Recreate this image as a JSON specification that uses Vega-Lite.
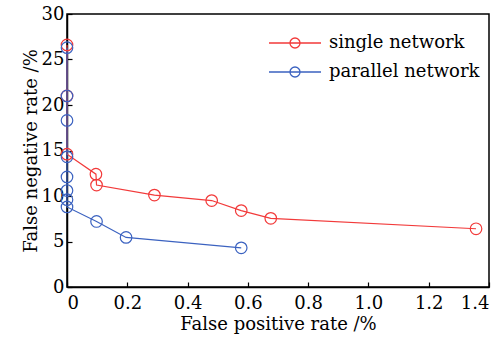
{
  "$schema": "https://vega.github.io/schema/vega-lite/v6.json",
  "width": 422,
  "height": 273,
  "autosize": {"type": "none"},
  "padding": {"left": 67, "top": 14, "right": 13, "bottom": 57},
  "background": "white",
  "config": {
    "font": "DejaVu Serif",
    "view": {"stroke": "black", "strokeWidth": 1.5},
    "axis": {
      "domainColor": "black", "domainWidth": 1.5,
      "tickColor": "black", "tickWidth": 1.2,
      "labelColor": "black", "titleColor": "black",
      "labelFont": "DejaVu Serif", "titleFont": "DejaVu Serif",
      "labelFontSize": 18, "titleFontSize": 18, "titleFontWeight": "normal",
      "grid": false
    }
  },
  "data": {
    "values": [
      {"series": "single network", "order": 1, "fpr": 0.0, "fnr": 26.6},
      {"series": "single network", "order": 2, "fpr": 0.0, "fnr": 21.0},
      {"series": "single network", "order": 3, "fpr": 0.0, "fnr": 14.6},
      {"series": "single network", "order": 4, "fpr": 0.096, "fnr": 12.4},
      {"series": "single network", "order": 5, "fpr": 0.098, "fnr": 11.2},
      {"series": "single network", "order": 6, "fpr": 0.29, "fnr": 10.1},
      {"series": "single network", "order": 7, "fpr": 0.48, "fnr": 9.5},
      {"series": "single network", "order": 8, "fpr": 0.578, "fnr": 8.4},
      {"series": "single network", "order": 9, "fpr": 0.676, "fnr": 7.55},
      {"series": "single network", "order": 10, "fpr": 1.357, "fnr": 6.4},
      {"series": "parallel network", "order": 1, "fpr": 0.0, "fnr": 26.3},
      {"series": "parallel network", "order": 2, "fpr": 0.0, "fnr": 21.0},
      {"series": "parallel network", "order": 3, "fpr": 0.0, "fnr": 18.3},
      {"series": "parallel network", "order": 4, "fpr": 0.0, "fnr": 14.3},
      {"series": "parallel network", "order": 5, "fpr": 0.0, "fnr": 12.1},
      {"series": "parallel network", "order": 6, "fpr": 0.0, "fnr": 10.6},
      {"series": "parallel network", "order": 7, "fpr": 0.0, "fnr": 9.6},
      {"series": "parallel network", "order": 8, "fpr": 0.0, "fnr": 8.8},
      {"series": "parallel network", "order": 9, "fpr": 0.098, "fnr": 7.2},
      {"series": "parallel network", "order": 10, "fpr": 0.196, "fnr": 5.45},
      {"series": "parallel network", "order": 11, "fpr": 0.578, "fnr": 4.3}
    ]
  },
  "encoding": {
    "x": {
      "field": "fpr", "type": "quantitative",
      "scale": {"domain": [0, 1.4], "nice": false},
      "axis": {"values": [0, 0.2, 0.4, 0.6, 0.8, 1.0, 1.2, 1.4], "labelExpr": "datum.value === 0 ? '0' : format(datum.value, '.1f')", "tickSize": -5, "labelPadding": 12, "title": "False positive rate /%", "titlePadding": 3}
    },
    "y": {
      "field": "fnr", "type": "quantitative",
      "scale": {"domain": [0, 30], "nice": false},
      "axis": {"values": [0, 5, 10, 15, 20, 25, 30], "tickSize": -5, "labelPadding": 8, "title": "False negative rate /%", "titlePadding": 1}
    },
    "color": {
      "field": "series", "type": "nominal",
      "scale": {"domain": ["single network", "parallel network"], "range": ["#f23a3a", "#3b62c0"]},
      "legend": {
        "title": null, "orient": "none", "legendX": 218, "legendY": 19,
        "padding": 0, "rowPadding": 10,
        "symbolType": "M-2.889,0H2.889M0.556,0A0.556,0.556 0 1,1 -0.556,0A0.556,0.556 0 1,1 0.556,0",
        "symbolSize": 324, "symbolStrokeWidth": 1.3, "symbolFillColor": "transparent",
        "labelOffset": 24, "labelFontSize": 18, "labelFont": "DejaVu Serif", "labelColor": "black"
      }
    },
    "order": {"field": "order", "type": "quantitative"}
  },
  "layer": [
    {"mark": {"type": "line", "strokeWidth": 1.2}},
    {"mark": {"type": "point", "filled": false, "size": 133, "strokeWidth": 1.2, "opacity": 1}}
  ]
}
